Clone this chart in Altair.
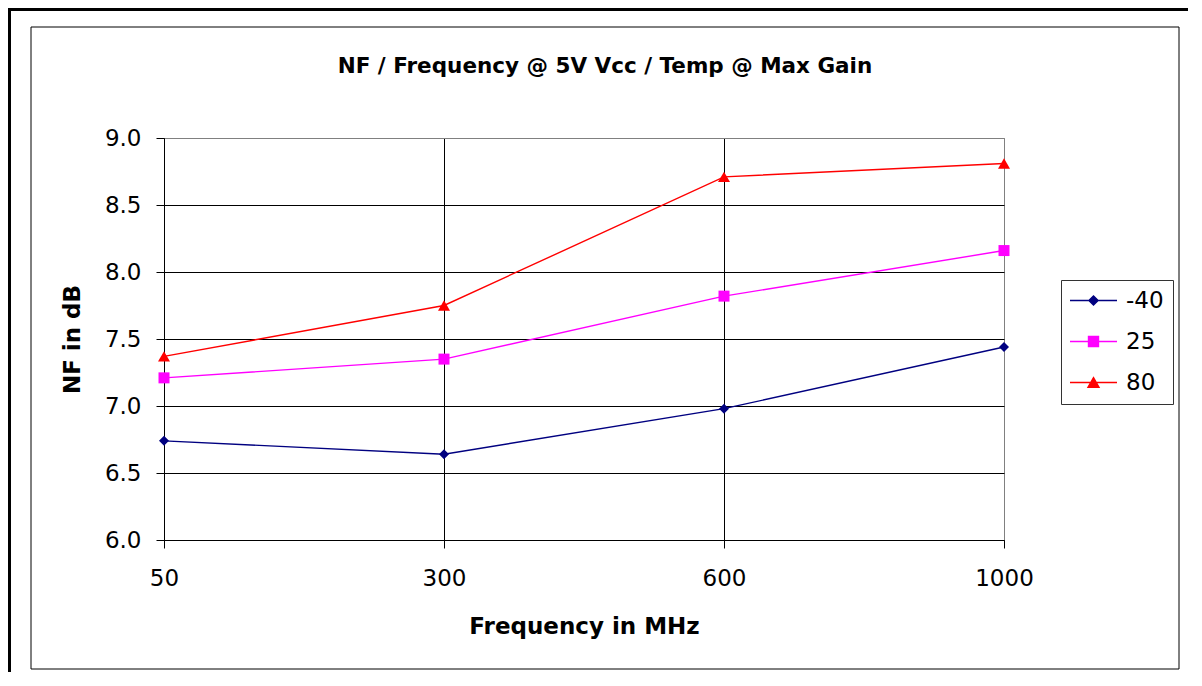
import altair as alt
import pandas as pd

# ---- data ----
freqs = ["50", "300", "600", "1000"]
temps = ["-40", "25", "80"]
nf_m40 = [6.74, 6.64, 6.98, 7.44]
nf_25 = [7.21, 7.35, 7.82, 8.16]
nf_80 = [7.37, 7.75, 8.71, 8.81]
y_ticks = [6.0, 6.5, 7.0, 7.5, 8.0, 8.5, 9.0]

# ---- styles ----
colors = ["#000080", "#FF00FF", "#FF0000"]
shapes = ["diamond", "square", "triangle-up"]
shape_sizes = [100, 121, 144]
legend_paths = [
    "M-2.35,0H2.35M0,-0.46L0.46,0L0,0.46L-0.46,0Z",
    "M-2.35,0H2.35M-0.5,-0.5H0.5V0.5H-0.5Z",
    "M-2.35,0H2.35M0,-0.48L0.55,0.48H-0.55Z",
]
FONT = "DejaVu Sans"

rows = []
for t, vals in zip(temps, [nf_m40, nf_25, nf_80]):
    for f, v in zip(freqs, vals):
        rows.append({"Freq": f, "NF": v, "Temp": t})
df = pd.DataFrame(rows)

x_grid_color = {"condition": {"test": "datum.value == '1000'", "value": "#808080"}, "value": "#000000"}
y_grid_color = {"condition": {"test": "datum.value == 9", "value": "#808080"}, "value": "#000000"}

x_enc = alt.X(
    "Freq:N", sort=freqs,
    scale=alt.Scale(type="point", padding=0),
    axis=alt.Axis(
        labelAngle=0, tickSize=8, tickColor="black", tickWidth=1,
        domainColor="black", domainWidth=1,
        labelPadding=19, labelFont=FONT, labelFontSize=23, labelColor="black",
        title="Frequency in MHz", titleFont=FONT, titleFontSize=23, titleFontWeight="bold",
        titleColor="black", titleX=420, titleY=93, titleAlign="center", titleBaseline="alphabetic",
        grid=True, gridColor=x_grid_color, gridWidth=1, gridOpacity=1,
    ),
)
y_enc = alt.Y(
    "NF:Q",
    scale=alt.Scale(domain=[6, 9], nice=False, zero=False),
    axis=alt.Axis(
        values=y_ticks, format=".1f", tickSize=8, tickColor="black", tickWidth=1,
        domainColor="black", domainWidth=1,
        labelPadding=15, labelFont=FONT, labelFontSize=23, labelColor="black",
        title="NF in dB", titleFont=FONT, titleFontSize=23, titleFontWeight="bold",
        titleColor="black", titleX=-92, titleY=201, titleAngle=-90,
        titleAlign="center", titleBaseline="middle",
        grid=True, gridColor=y_grid_color, gridWidth=1, gridOpacity=1,
    ),
)

base = alt.Chart(df)

# decorative frames
one = pd.DataFrame({"k": [0]})
inner = alt.Chart(one).mark_rect(fill="transparent", stroke="#000000", strokeWidth=1).encode(
    x=alt.value(-133), x2=alt.value(1015), y=alt.value(-111), y2=alt.value(531)
)
outer_left = alt.Chart(one).mark_rule(color="#000000", strokeWidth=3).encode(
    x=alt.value(-154.5), y=alt.value(-128.5), y2=alt.value(534)
)
outer_top = alt.Chart(one).mark_rule(color="#000000", strokeWidth=3).encode(
    x=alt.value(-156), x2=alt.value(1024), y=alt.value(-128.5)
)

lines = []
points = []
for t, c, s, sz in zip(temps, colors, shapes, shape_sizes):
    sub = base.transform_filter(alt.datum.Temp == t)
    lines.append(sub.mark_line(color=c, strokeWidth=1.4).encode(x=x_enc, y=y_enc))
    points.append(
        sub.mark_point(filled=True, color=c, shape=s, size=sz, opacity=1, strokeWidth=0).encode(x=x_enc, y=y_enc)
    )

leg_props = dict(
    title=None, orient="none", legendX=897, legendY=142, direction="vertical",
    padding=9, symbolSize=400, symbolOffset=12, labelOffset=21,
    labelFont=FONT, labelFontSize=23, labelColor="black", labelLimit=0,
    labelExpr="datum.label + '\u00a0\u00a0'",
    strokeColor="#333333", fillColor="white", rowPadding=17, symbolStrokeWidth=1.4,
)
legend_layer = base.transform_filter("false").mark_point(
    filled=True, opacity=1, size=400, strokeWidth=1.4
).encode(
    x=x_enc, y=y_enc,
    fill=alt.Fill("Temp:N", scale=alt.Scale(domain=temps, range=colors), legend=alt.Legend(**leg_props)),
    stroke=alt.Stroke("Temp:N", scale=alt.Scale(domain=temps, range=colors), legend=alt.Legend(**leg_props)),
    shape=alt.Shape("Temp:N", scale=alt.Scale(domain=temps, range=legend_paths), legend=alt.Legend(**leg_props)),
)

chart = alt.layer(inner, outer_left, outer_top, *lines, *points, legend_layer).properties(
    width=840,
    height=402,
    padding={"left": 156, "top": 130, "right": 184, "bottom": 132},
    autosize=alt.AutoSizeParams(type="none"),
    title=alt.TitleParams(
        text="NF / Frequency @ 5V Vcc / Temp @ Max Gain",
        font=FONT, fontSize=21.5, fontWeight="bold", color="black",
        anchor="middle", frame="group", offset=0, dx=21, dy=86, baseline="alphabetic",
    ),
    background="white",
).configure_view(stroke="#808080", strokeWidth=1)

chart.save("out.html", embed_options={"renderer": "svg", "actions": False})
